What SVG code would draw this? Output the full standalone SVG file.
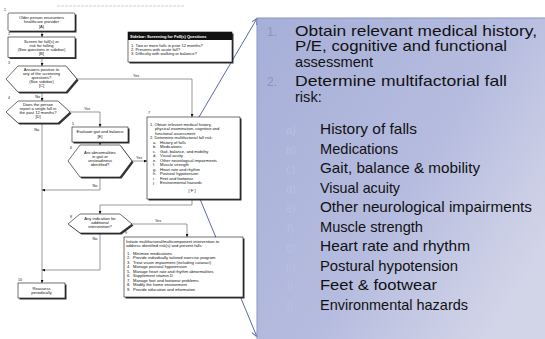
<svg xmlns="http://www.w3.org/2000/svg" width="545" height="339" viewBox="0 0 545 339">
<defs>
<style>
.ft{font-family:"Liberation Sans",Arial,sans-serif;font-size:4.1px;fill:#111}
.c{text-anchor:middle}
.num{font-family:"Liberation Sans",Arial,sans-serif;font-size:3.6px;fill:#222}
.box{fill:#fff;stroke:#111;stroke-width:0.6}
.sh{fill:#333}
.ln{fill:none;stroke:#555;stroke-width:0.6}
.lab{font-family:"Liberation Sans",Arial,sans-serif;font-size:3.8px;fill:#222}
.blue{fill:none;stroke:#5a69a8;stroke-width:1}
.pt{font-family:"Liberation Sans",Arial,sans-serif;fill:#111}
.m{font-size:14.6px}
.s{font-size:15px}
.pn{font-family:"Liberation Sans",Arial,sans-serif;font-size:12px;fill:#8d95b6}
.pl{font-family:"Liberation Sans",Arial,sans-serif;font-size:11px;fill:#b9c0e2}
</style>
<marker id="ah" viewBox="0 0 6 6" refX="6" refY="3" markerWidth="3" markerHeight="3" markerUnits="userSpaceOnUse" orient="auto">
<path d="M0,0 L6,3 L0,6 z" fill="#111"/>
</marker>
<marker id="bh" viewBox="0 0 6 6" refX="6" refY="3" markerWidth="6" markerHeight="6" markerUnits="userSpaceOnUse" orient="auto">
<path d="M0,0 L6,3 L0,6" fill="none" stroke="#5a69a8" stroke-width="1"/>
</marker>
<linearGradient id="pg" x1="0" y1="0" x2="1" y2="0.7">
<stop offset="0" stop-color="#a6afd8"/>
<stop offset="0.6" stop-color="#b6bcdf"/>
<stop offset="1" stop-color="#d2d5e8"/>
</linearGradient>
</defs>
<rect x="0" y="0" width="545" height="339" fill="#fff"/>
<line x1="57" y1="6" x2="185" y2="6" stroke="#cfcfcf" stroke-width="1.2" stroke-dasharray="3 1"/>

<g id="connectors">
<line class="ln" x1="42" y1="31" x2="42" y2="37" marker-end="url(#ah)"/>
<line class="ln" x1="42" y1="57.5" x2="42" y2="66" marker-end="url(#ah)"/>
<line class="ln" x1="42" y1="92" x2="42" y2="101" marker-end="url(#ah)"/>
<polyline class="ln" points="77,79 192,79 192,117" marker-end="url(#ah)"/>
<polyline class="ln" points="70,112 100,112 100,127" marker-end="url(#ah)"/>
<line class="ln" x1="42" y1="123" x2="42" y2="283" marker-end="url(#ah)"/>
<line class="ln" x1="100" y1="142" x2="100" y2="145" marker-end="url(#ah)"/>
<line class="ln" x1="132" y1="161" x2="147" y2="161" marker-end="url(#ah)"/>
<polyline class="ln" points="100,177 100,190 42,190" marker-end="url(#ah)"/>
<polyline class="ln" points="192,199 192,205 100,205 100,214" marker-end="url(#ah)"/>
<polyline class="ln" points="132,224 187,224 187,237" marker-end="url(#ah)"/>
<polyline class="ln" points="100,233 100,270 42,270" marker-end="url(#ah)"/>
<text class="lab" x="133" y="77">Yes</text>
<text class="lab" x="84" y="110">Yes</text>
<text class="lab" x="40" y="97.5" text-anchor="end">No</text>
<text class="lab" x="39" y="130.5" text-anchor="end">No</text>
<text class="lab" x="136" y="158.5">Yes</text>
<text class="lab" x="95" y="187" text-anchor="middle">No</text>
<text class="lab" x="158" y="221.5" text-anchor="middle">Yes</text>
<text class="lab" x="95" y="239.5" text-anchor="middle">No</text>
<line class="blue" x1="199" y1="117" x2="257" y2="18.5" marker-end="url(#bh)"/>
<line class="blue" x1="200" y1="199" x2="257" y2="337" marker-end="url(#bh)"/>
</g>

<g id="n1">
<rect class="sh" x="9.5" y="14.5" width="67" height="18"/>
<rect class="box" x="8" y="13" width="67" height="18" rx="1.5"/>
<text class="num" x="4" y="11">1</text>
<text class="ft c" x="41.5" y="19">Older person encounters</text>
<text class="ft c" x="41.5" y="23">healthcare provider</text>
<text class="ft c" x="41.5" y="28">[A]</text>
</g>

<g id="n2">
<rect class="sh" x="9.5" y="38.5" width="67" height="20.5"/>
<rect class="box" x="8" y="37" width="67" height="20.5"/>
<text class="num" x="8" y="35">2</text>
<text class="ft c" x="41.5" y="42.5">Screen for fall(s) or</text>
<text class="ft c" x="41.5" y="46.5">risk for falling</text>
<text class="ft c" x="41.5" y="50.5">(See questions in sidebar)</text>
<text class="ft c" x="41.5" y="55">[B]</text>
</g>

<g id="sidebar">
<rect class="sh" x="129.5" y="33.5" width="104" height="30"/>
<rect x="128" y="32" width="104" height="30" fill="#fff" stroke="#111" stroke-width="0.6"/>
<rect x="128" y="32" width="104" height="8" fill="#111"/>
<text x="130" y="37.5" font-family="Liberation Sans, Arial, sans-serif" font-size="4" font-weight="bold" fill="#fff">Sidebar: Screening for Fall(s) Questions</text>
<text class="ft" x="131" y="46.5">1. Two or more falls in prior 12 months?</text>
<text class="ft" x="131" y="50.5">2. Presents with acute fall?</text>
<text class="ft" x="131" y="54.5">3. Difficulty with walking or balance?</text>
</g>

<g id="n3">
<polygon class="sh" points="7.5,80.5 19.5,67.5 67.5,67.5 78.5,80.5 67.5,93.5 19.5,93.5"/>
<polygon class="box" points="6,79 18,66 66,66 77,79 66,92 18,92"/>
<text class="num" x="8" y="64">3</text>
<text class="ft c" x="41.5" y="70.5">Answers positive to</text>
<text class="ft c" x="41.5" y="74.5">any of the screening</text>
<text class="ft c" x="41.5" y="78.5">questions?</text>
<text class="ft c" x="41.5" y="82.5">(See sidebar)</text>
<text class="ft c" x="41.5" y="87">[C]</text>
</g>

<g id="n4">
<polygon class="sh" points="7.5,113.5 19.5,102.5 59.5,102.5 71.5,113.5 59.5,124.5 19.5,124.5"/>
<polygon class="box" points="6,112 18,101 58,101 70,112 58,123 18,123"/>
<text class="num" x="8" y="99">4</text>
<text class="ft c" x="38" y="105.5">Does the person</text>
<text class="ft c" x="38" y="109.5">report a single fall in</text>
<text class="ft c" x="38" y="113.5">the past 12 months?</text>
<text class="ft c" x="38" y="118">[D]</text>
</g>

<g id="n5">
<rect class="sh" x="73.5" y="128.5" width="56" height="15"/>
<rect class="box" x="72" y="127" width="56" height="15"/>
<text class="num" x="72" y="124.5">5</text>
<text class="ft c" x="100" y="132.5">Evaluate gait and balance</text>
<text class="ft c" x="100" y="138">[E]</text>
</g>

<g id="n6">
<polygon class="sh" points="69.5,162.5 81.5,146.5 121.5,146.5 133.5,162.5 121.5,178.5 81.5,178.5"/>
<polygon class="box" points="68,161 80,145 120,145 132,161 120,177 80,177"/>
<text class="num" x="70" y="149">6</text>
<text class="ft c" x="100" y="154">Are abnormalities</text>
<text class="ft c" x="100" y="158">in gait or</text>
<text class="ft c" x="100" y="162">unsteadiness</text>
<text class="ft c" x="100" y="166">identified?</text>
</g>

<g id="n7">
<rect class="sh" x="148.5" y="118.5" width="93" height="82"/>
<rect class="box" x="147" y="117" width="93" height="82"/>
<text class="num" x="148" y="114">7</text>
<text class="ft" x="150" y="125.5">1. Obtain relevant medical history,</text>
<text class="ft" x="155" y="130">physical examination, cognitive and</text>
<text class="ft" x="155" y="134.5">functional assessment</text>
<text class="ft" x="150" y="139">2. Determine multifactorial fall risk:</text>
<text class="ft" x="153" y="143.5">a.</text><text class="ft" x="160" y="143.5">History of falls</text>
<text class="ft" x="153" y="148">b.</text><text class="ft" x="160" y="148">Medications</text>
<text class="ft" x="153" y="152.5">c.</text><text class="ft" x="160" y="152.5">Gait, balance, and mobility</text>
<text class="ft" x="153" y="157">d.</text><text class="ft" x="160" y="157">Visual acuity</text>
<text class="ft" x="153" y="161.5">e.</text><text class="ft" x="160" y="161.5">Other neurological impairments</text>
<text class="ft" x="153" y="166">f.</text><text class="ft" x="160" y="166">Muscle strength</text>
<text class="ft" x="153" y="170.5">g.</text><text class="ft" x="160" y="170.5">Heart rate and rhythm</text>
<text class="ft" x="153" y="175">h.</text><text class="ft" x="160" y="175">Postural hypotension</text>
<text class="ft" x="153" y="179.5">i.</text><text class="ft" x="160" y="179.5">Feet and footwear</text>
<text class="ft" x="153" y="184">j.</text><text class="ft" x="160" y="184">Environmental hazards</text>
<text class="ft c" x="192" y="192">[ F ]</text>
</g>

<g id="n8">
<polygon class="sh" points="69.5,225.5 81.5,215.5 121.5,215.5 133.5,225.5 121.5,234.5 81.5,234.5"/>
<polygon class="box" points="68,224 80,214 120,214 132,224 120,233 80,233"/>
<text class="num" x="70" y="218">8</text>
<text class="ft c" x="100" y="220">Any indication for</text>
<text class="ft c" x="100" y="224">additional</text>
<text class="ft c" x="100" y="228">intervention?</text>
</g>

<g id="n9">
<rect class="sh" x="125.5" y="238.5" width="119" height="60"/>
<rect class="box" x="124" y="237" width="119" height="60"/>
<text class="num" x="125" y="234">9</text>
<text class="ft" x="126" y="242.5">Initiate multifactorial/multicomponent intervention to</text>
<text class="ft" x="126" y="246.5">address identified risk(s) and prevent falls:</text>
<text class="ft" x="127" y="254.5">1.</text><text class="ft" x="133" y="254.5">Minimize medications</text>
<text class="ft" x="127" y="259">2.</text><text class="ft" x="133" y="259">Provide individually tailored exercise program</text>
<text class="ft" x="127" y="263.5">3.</text><text class="ft" x="133" y="263.5">Treat vision impairment (including cataract)</text>
<text class="ft" x="127" y="268">4.</text><text class="ft" x="133" y="268">Manage postural hypotension</text>
<text class="ft" x="127" y="272.5">5.</text><text class="ft" x="133" y="272.5">Manage heart rate and rhythm abnormalities</text>
<text class="ft" x="127" y="277">6.</text><text class="ft" x="133" y="277">Supplement vitamin D</text>
<text class="ft" x="127" y="281.5">7.</text><text class="ft" x="133" y="281.5">Manage foot and footwear problems</text>
<text class="ft" x="127" y="286">8.</text><text class="ft" x="133" y="286">Modify the home environment</text>
<text class="ft" x="127" y="290.5">9.</text><text class="ft" x="133" y="290.5">Provide education and information</text>
</g>

<g id="n10">
<rect class="sh" x="19.5" y="284.5" width="47" height="15"/>
<rect class="box" x="18" y="283" width="47" height="15"/>
<text class="num" x="18" y="280.5">10</text>
<text class="ft c" x="41.5" y="289.5">Reassess</text>
<text class="ft c" x="41.5" y="294">periodically</text>
</g>

<g id="panel">
<rect x="257" y="18" width="290" height="323" fill="url(#pg)" stroke="#8b96c7" stroke-width="1"/>
<text class="pn" x="267" y="36">1.</text>
<text class="pt m" x="295" y="35.5" textLength="242" lengthAdjust="spacingAndGlyphs">Obtain relevant medical history,</text>
<text class="pt m" x="295" y="51" textLength="212" lengthAdjust="spacingAndGlyphs">P/E, cognitive and functional</text>
<text class="pt m" x="295" y="66.5" textLength="78" lengthAdjust="spacingAndGlyphs">assessment</text>
<text class="pn" x="267" y="86">2.</text>
<text class="pt m" x="295" y="86" textLength="212" lengthAdjust="spacingAndGlyphs">Determine multifactorial fall</text>
<text class="pt m" x="295" y="101.5">risk:</text>
<text class="pl" x="286" y="134">a)</text>
<text class="pt s" x="320" y="134" textLength="97" lengthAdjust="spacingAndGlyphs">History of falls</text>
<text class="pl" x="286" y="153.5">b)</text>
<text class="pt s" x="320" y="153.5" textLength="78" lengthAdjust="spacingAndGlyphs">Medications</text>
<text class="pl" x="286" y="173">c)</text>
<text class="pt s" x="320" y="173" textLength="160" lengthAdjust="spacingAndGlyphs">Gait, balance &amp; mobility</text>
<text class="pl" x="286" y="192.5">d)</text>
<text class="pt s" x="320" y="192.5" textLength="80" lengthAdjust="spacingAndGlyphs">Visual acuity</text>
<text class="pl" x="286" y="212">e)</text>
<text class="pt s" x="320" y="212" textLength="212" lengthAdjust="spacingAndGlyphs">Other neurological impairments</text>
<text class="pl" x="287" y="231.5">f)</text>
<text class="pt s" x="320" y="231.5" textLength="103" lengthAdjust="spacingAndGlyphs">Muscle strength</text>
<text class="pl" x="286" y="251">g)</text>
<text class="pt s" x="320" y="251" textLength="150" lengthAdjust="spacingAndGlyphs">Heart rate and rhythm</text>
<text class="pl" x="286" y="270.5">h)</text>
<text class="pt s" x="320" y="270.5" textLength="138" lengthAdjust="spacingAndGlyphs">Postural hypotension</text>
<text class="pl" x="287" y="290">i)</text>
<text class="pt s" x="320" y="290" textLength="117" lengthAdjust="spacingAndGlyphs">Feet &amp; footwear</text>
<text class="pl" x="287" y="309.5">j)</text>
<text class="pt s" x="320" y="309.5" textLength="148" lengthAdjust="spacingAndGlyphs">Environmental hazards</text>
</g>
</svg>
